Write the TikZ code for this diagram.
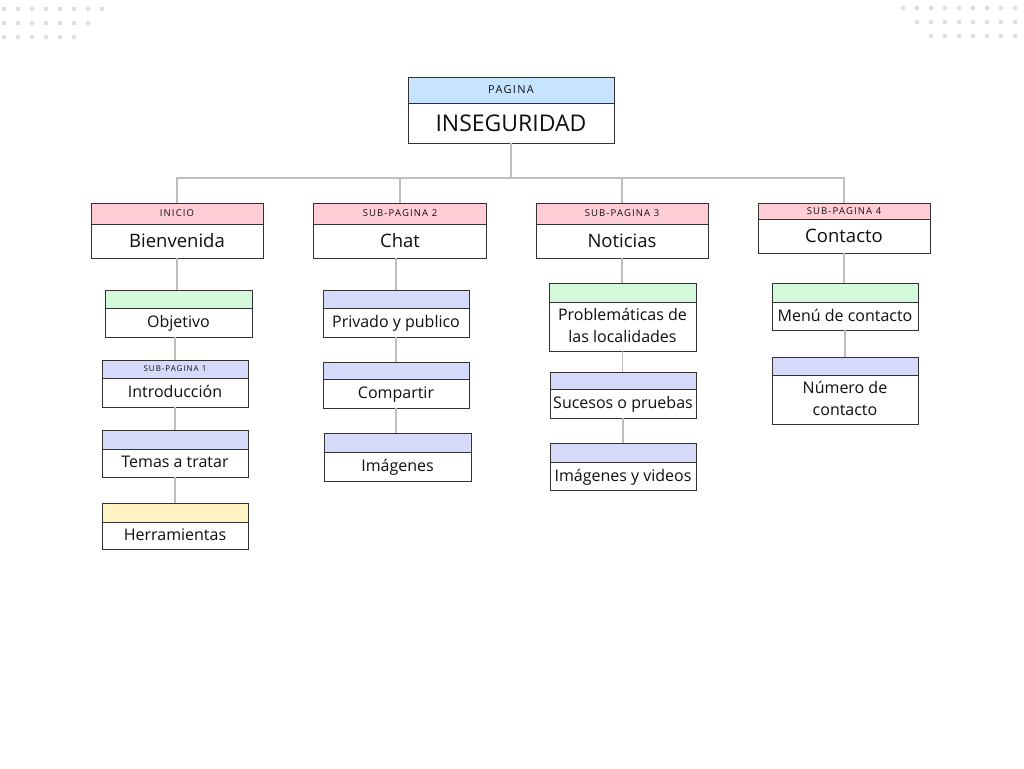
\documentclass[tikz,border=0pt]{standalone}
\usepackage{fontspec}
\setmainfont{Open Sans}
\newfontfamily\headfont[LetterSpace=12]{Open Sans}
\usetikzlibrary{positioning}
\definecolor{rootblue}{RGB}{198, 228, 255}
\definecolor{pinkhead}{RGB}{255, 205, 214}
\definecolor{greenhead}{RGB}{212, 249, 219}
\definecolor{lavhead}{RGB}{213, 218, 251}
\definecolor{yellowhead}{RGB}{255, 243, 194}
\definecolor{boxline}{RGB}{50, 50, 50}
\definecolor{linkgray}{RGB}{190, 190, 190}
\definecolor{dotgray}{RGB}{222, 222, 222}
\definecolor{inktext}{RGB}{15, 15, 15}
\tikzset{
  basebox/.style={
    rectangle, draw=boxline, line width=0.9pt, outer sep=0pt, inner sep=0pt,
    align=center, text=inktext
  },
  headbox/.style={basebox, anchor=north, font=\headfont\fontsize{9.5}{10}\selectfont},
  rootbox/.style={basebox, minimum width=206, fill=white, font=\fontsize{23}{26}\selectfont},
  sectionbox/.style={basebox, minimum width=172, minimum height=34, fill=white,
    font=\fontsize{18.5}{21}\selectfont, text depth=1pt},
  childbox/.style={basebox, minimum width=147, fill=white,
    font=\fontsize{16}{22}\selectfont, text depth=1.5pt},
  link/.style={draw=linkgray, line width=1.2pt}
}
\begin{document}
\begin{tikzpicture}[x=1pt, y=-1pt]

  % Canvas
  \useasboundingbox[fill=white] (0,0) rectangle (1024,768);

  % Corner dots
  \foreach \row in {0,1,2} {
    \pgfmathtruncatemacro\last{7-\row}
    \foreach \i in {0,...,\last}
      \fill[dotgray] ({4+14*\i},{9+14*\row}) circle (2.3pt);
  }
  \foreach \row in {0,1,2} {
    \foreach \i in {\row,...,8}
      \fill[dotgray] ({903+14*\i},{8+14*\row}) circle (2.3pt);
  }

  % Root
  \node[headbox, fill=rootblue, minimum width=206, minimum height=26,
        font=\headfont\fontsize{11}{12}\selectfont] (root_h) at (511,77) {PAGINA};
  \node[rootbox, minimum height=40, below=0pt of root_h] (root) {INSEGURIDAD};

  % Sections
  \node[headbox, fill=pinkhead, minimum width=172, minimum height=21] (inicio_h) at (177,203) {INICIO};
  \node[sectionbox, below=0pt of inicio_h] (inicio) {Bienvenida};

  \node[headbox, fill=pinkhead, minimum width=173, minimum height=21] (chat_h) at (400,203) {SUB-PAGINA 2};
  \node[sectionbox, minimum width=173, below=0pt of chat_h] (chat) {Chat};

  \node[headbox, fill=pinkhead, minimum width=172, minimum height=21] (noticias_h) at (622,203) {SUB-PAGINA 3};
  \node[sectionbox, below=0pt of noticias_h] (noticias) {Noticias};

  \node[headbox, fill=pinkhead, minimum width=172, minimum height=16] (contacto_h) at (844,203) {SUB-PAGINA 4};
  \node[sectionbox, below=0pt of contacto_h] (contacto) {Contacto};

  % Inicio children
  \node[headbox, fill=greenhead, minimum width=147, minimum height=18] (objetivo_h) at (178.5,290) {};
  \node[childbox, minimum height=29, below=0pt of objetivo_h] (objetivo) {Objetivo};

  \node[headbox, fill=lavhead, minimum width=146, minimum height=18,
        font=\headfont\fontsize{8}{9}\selectfont] (intro_h) at (175,360) {SUB-PAGINA 1};
  \node[childbox, minimum width=146, minimum height=29, below=0pt of intro_h] (intro) {Introducción};

  \node[headbox, fill=lavhead, minimum width=146, minimum height=19] (temas_h) at (175,430) {};
  \node[childbox, minimum width=146, minimum height=28, below=0pt of temas_h] (temas) {Temas a tratar};

  \node[headbox, fill=yellowhead, minimum width=146, minimum height=19] (herram_h) at (175,503) {};
  \node[childbox, minimum width=146, minimum height=27, below=0pt of herram_h] (herram) {Herramientas};

  % Chat children
  \node[headbox, fill=lavhead, minimum width=146, minimum height=18] (privado_h) at (396,290) {};
  \node[childbox, minimum width=146, minimum height=29, below=0pt of privado_h] (privado) {Privado y publico};

  \node[headbox, fill=lavhead, minimum width=146, minimum height=17] (compartir_h) at (396,362) {};
  \node[childbox, minimum width=146, minimum height=29, below=0pt of compartir_h] (compartir) {Compartir};

  \node[headbox, fill=lavhead, minimum width=147, minimum height=19] (imagenes_h) at (397.5,433) {};
  \node[childbox, minimum height=29, below=0pt of imagenes_h] (imagenes) {Imágenes};

  % Noticias children
  \node[headbox, fill=greenhead, minimum width=147, minimum height=19] (problemas_h) at (622.5,283) {};
  \node[childbox, minimum height=49, below=0pt of problemas_h] (problemas) {Problemáticas de\\las localidades};

  \node[headbox, fill=lavhead, minimum width=146, minimum height=17] (sucesos_h) at (623,372) {};
  \node[childbox, minimum width=146, minimum height=29, below=0pt of sucesos_h] (sucesos) {Sucesos o pruebas};

  \node[headbox, fill=lavhead, minimum width=146, minimum height=19] (imgvideo_h) at (623,443) {};
  \node[childbox, minimum width=146, minimum height=28, below=0pt of imgvideo_h] (imgvideo) {Imágenes y videos};

  % Contacto children
  \node[headbox, fill=greenhead, minimum width=146, minimum height=19] (menu_h) at (845,283) {};
  \node[childbox, minimum width=146, minimum height=28, below=0pt of menu_h] (menu) {Menú de contacto};

  \node[headbox, fill=lavhead, minimum width=146, minimum height=18] (numero_h) at (845,357) {};
  \node[childbox, minimum width=146, minimum height=49, below=0pt of numero_h] (numero) {Número de\\contacto};

  % Root to sections
  \coordinate (bus) at (511,178);
  \draw[link] (root.south) -- (bus);
  \draw[link] (bus) -| (inicio_h.north);
  \draw[link] (bus) -| (chat_h.north);
  \draw[link] (bus) -| (noticias_h.north);
  \draw[link] (bus) -| (contacto_h.north);

  % Columns
  \draw[link] (inicio.south) -- (inicio.south |- objetivo_h.north);
  \draw[link] (objetivo.south -| intro_h.north) -- (intro_h.north);
  \draw[link] (intro.south) -- (temas_h.north);
  \draw[link] (temas.south) -- (herram_h.north);

  \draw[link] (chat.south -| privado_h.north) -- (privado_h.north);
  \draw[link] (privado.south) -- (compartir_h.north);
  \draw[link] (compartir.south) -- (compartir.south |- imagenes_h.north);

  \draw[link] (noticias.south) -- (noticias.south |- problemas_h.north);
  \draw[link] (problemas.south) -- (problemas.south |- sucesos_h.north);
  \draw[link] (sucesos.south) -- (imgvideo_h.north);

  \draw[link] (contacto.south) -- (contacto.south |- menu_h.north);
  \draw[link] (menu.south) -- (numero_h.north);

\end{tikzpicture}
\end{document}
